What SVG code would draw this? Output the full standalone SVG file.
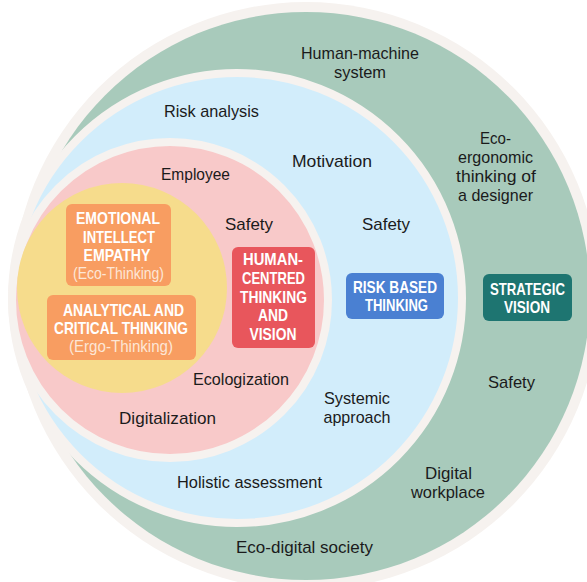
<svg xmlns="http://www.w3.org/2000/svg" width="587" height="582" viewBox="0 0 587 582">
<style>
.lbl{font-family:"Liberation Sans",Arial,sans-serif;font-size:17px;fill:#1b1b1b;text-anchor:middle}
.bx{font-family:"Liberation Sans",Arial,sans-serif;font-size:17px;font-weight:700;fill:#ffffff;text-anchor:middle}
.sub{font-weight:400;font-size:16px;fill:#fde6d6}
.box{stroke:none}
</style>
<rect width="587" height="582" fill="#ffffff"/>
<g id="rings">
  <circle id="outer-band" cx="306" cy="296" r="294" fill="#f6f2ef"/>
  <circle id="green-ring" cx="306" cy="296" r="284" fill="#a8cabb"/>
  <circle id="blue-ring" cx="237" cy="298" r="225" fill="#d2edfb" stroke="#f6f2ef" stroke-width="8"/>
  <circle id="pink-ring" cx="170" cy="300" r="158" fill="#f8c9c9" stroke="#f6f2ef" stroke-width="8"/>
  <circle id="yellow-core" cx="122" cy="288" r="105" fill="#f6dc8c"/>
</g>
<g id="connectors"/>
<g id="labels">
  <g id="human-machine"><text class="lbl" x="360" y="59" textLength="118" lengthAdjust="spacingAndGlyphs">Human-machine</text><text class="lbl" x="360" y="78" textLength="52" lengthAdjust="spacingAndGlyphs">system</text></g>
  <g id="risk-analysis"><text class="lbl" x="211.5" y="117" textLength="95" lengthAdjust="spacingAndGlyphs">Risk analysis</text></g>
  <g id="motivation"><text class="lbl" x="332" y="167" textLength="80" lengthAdjust="spacingAndGlyphs">Motivation</text></g>
  <g id="employee"><text class="lbl" x="195.5" y="180" textLength="69" lengthAdjust="spacingAndGlyphs">Employee</text></g>
  <g id="eco-ergonomic">
    <text class="lbl" x="495.5" y="144" textLength="31" lengthAdjust="spacingAndGlyphs">Eco-</text>
    <text class="lbl" x="495.5" y="162.5" textLength="75" lengthAdjust="spacingAndGlyphs">ergonomic</text>
    <text class="lbl" x="496" y="181.5" textLength="80" lengthAdjust="spacingAndGlyphs">thinking of</text>
    <text class="lbl" x="495.5" y="200.5" textLength="75" lengthAdjust="spacingAndGlyphs">a designer</text>
  </g>
  <g id="safety-pink"><text class="lbl" x="249" y="230" textLength="48" lengthAdjust="spacingAndGlyphs">Safety</text></g>
  <g id="safety-blue"><text class="lbl" x="386" y="230" textLength="48" lengthAdjust="spacingAndGlyphs">Safety</text></g>
  <g id="safety-green"><text class="lbl" x="511.5" y="388" textLength="47" lengthAdjust="spacingAndGlyphs">Safety</text></g>
  <g id="ecologization"><text class="lbl" x="241" y="385" textLength="96" lengthAdjust="spacingAndGlyphs">Ecologization</text></g>
  <g id="digitalization"><text class="lbl" x="167.5" y="424" textLength="97" lengthAdjust="spacingAndGlyphs">Digitalization</text></g>
  <g id="systemic-approach"><text class="lbl" x="357" y="404" textLength="66" lengthAdjust="spacingAndGlyphs">Systemic</text><text class="lbl" x="357" y="423" textLength="67" lengthAdjust="spacingAndGlyphs">approach</text></g>
  <g id="holistic-assessment"><text class="lbl" x="249.5" y="488" textLength="145" lengthAdjust="spacingAndGlyphs">Holistic assessment</text></g>
  <g id="digital-workplace"><text class="lbl" x="448.5" y="479" textLength="47" lengthAdjust="spacingAndGlyphs">Digital</text><text class="lbl" x="448" y="498" textLength="74" lengthAdjust="spacingAndGlyphs">workplace</text></g>
  <g id="eco-digital-society"><text class="lbl" x="304.5" y="553" textLength="137" lengthAdjust="spacingAndGlyphs">Eco-digital society</text></g>
</g>
<g id="node-emotional">
  <rect class="box" x="66" y="204" width="105" height="82" rx="6" fill="#f89d61"/>
  <text class="bx" x="118" y="224" textLength="84" lengthAdjust="spacingAndGlyphs">EMOTIONAL</text>
  <text class="bx" x="119" y="242.5" textLength="72" lengthAdjust="spacingAndGlyphs">INTELLECT</text>
  <text class="bx" x="117" y="260.5" textLength="67" lengthAdjust="spacingAndGlyphs">EMPATHY</text>
  <text class="bx sub" x="118.5" y="278.5" textLength="91" lengthAdjust="spacingAndGlyphs">(Eco-Thinking)</text>
</g>
<g id="node-analytical">
  <rect class="box" x="47" y="295" width="149" height="65" rx="6" fill="#f89d61"/>
  <text class="bx" x="123.5" y="315.5" textLength="121" lengthAdjust="spacingAndGlyphs">ANALYTICAL AND</text>
  <text class="bx" x="121" y="334" textLength="134" lengthAdjust="spacingAndGlyphs">CRITICAL THINKING</text>
  <text class="bx sub" x="121" y="352" textLength="104" lengthAdjust="spacingAndGlyphs">(Ergo-Thinking)</text>
</g>
<g id="node-human-centred">
  <rect class="box" x="232" y="247" width="83" height="101" rx="6" fill="#e8565c"/>
  <text class="bx" x="273" y="265" textLength="60" lengthAdjust="spacingAndGlyphs">HUMAN-</text>
  <text class="bx" x="273.5" y="284" textLength="63" lengthAdjust="spacingAndGlyphs">CENTRED</text>
  <text class="bx" x="273.5" y="303" textLength="67" lengthAdjust="spacingAndGlyphs">THINKING</text>
  <text class="bx" x="273" y="321" textLength="30" lengthAdjust="spacingAndGlyphs">AND</text>
  <text class="bx" x="273" y="339.5" textLength="47" lengthAdjust="spacingAndGlyphs">VISION</text>
</g>
<g id="node-risk-based">
  <rect class="box" x="346" y="273" width="98" height="46" rx="6" fill="#4a80d2"/>
  <text class="bx" x="395" y="293" textLength="84" lengthAdjust="spacingAndGlyphs">RISK BASED</text>
  <text class="bx" x="396.5" y="311" textLength="63" lengthAdjust="spacingAndGlyphs">THINKING</text>
</g>
<g id="node-strategic">
  <rect class="box" x="483" y="274" width="89" height="47" rx="6" fill="#1e7571"/>
  <text class="bx" x="527.5" y="295" textLength="75" lengthAdjust="spacingAndGlyphs">STRATEGIC</text>
  <text class="bx" x="527" y="313" textLength="46" lengthAdjust="spacingAndGlyphs">VISION</text>
</g>
</svg>
